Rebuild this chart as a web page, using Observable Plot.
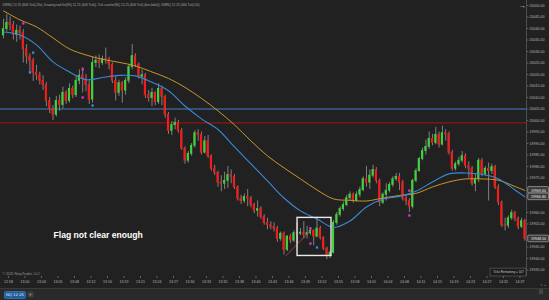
<!DOCTYPE html>
<html><head><meta charset="utf-8">
<script src="https://cdn.jsdelivr.net/npm/d3@7"></script>
<script src="https://cdn.jsdelivr.net/npm/@observablehq/plot@0.6"></script>
<style>
html,body{margin:0;padding:0;background:#212121;}
#wrap{position:relative;width:549px;height:300px;overflow:hidden;background:#212121;font-family:"DejaVu Sans",sans-serif;}
#bar{position:absolute;left:0;top:288px;width:549px;height:12px;}
</style></head><body><div id="wrap"><div id="chart"></div>
<svg id="bar" width="549" height="12">
<rect x="0" y="0" width="549" height="12" fill="#2a2a2a"/>
<line x1="0" y1="0.5" x2="549" y2="0.5" stroke="#3a3a3a"/>
<rect x="4.5" y="3.5" width="21" height="7" rx="1" fill="#1d5f9e" stroke="#3f86c8" stroke-width="0.6"/>
<text x="15" y="8.3" font-size="3.8" fill="#e8e8e8" text-anchor="middle" font-family="DejaVu Sans">NQ 12-25</text>
<rect x="28" y="4" width="5" height="5" rx="1" fill="#3a3a3a" stroke="#555" stroke-width="0.5"/>
<text x="30.5" y="8" font-size="4.5" fill="#ccc" text-anchor="middle" font-family="DejaVu Sans">+</text>
<rect x="539" y="1" width="4" height="5" fill="#444"/>
</svg>
</div>
<script>
// ---------- data ----------
const firstOpen = 20037;
const closes = [
20039.75,20042.5,20041.5,20037.25,20039,20038,20031,20027.75,20026,20020.75,
20019.75,20017.25,20015.5,20008.5,20005,20002.5,20008.5,20006.75,20012,20008.5,
20013.75,20011,20017.25,20019.5,20018,20015.5,20009,20025,20026,20025,
20026.75,20026.5,20024.25,20017.25,20012,20016.25,20013,20017.25,20023.25,20028,
20024.25,20019,20019.75,20011,20009.75,20012,20008,20013.75,20010.25,20002.5,
19995.5,19998,19999,19995.5,19987.75,19982.5,19985.5,19989,19994.5,19993.75,
19986,19991,19984.5,19979,19977.25,19973,19972.5,19973.75,19976.25,19975.5,
19971,19966,19965,19966.75,19966,19963.25,19960.75,19961.5,19958,19955.5,
19954.5,19953.75,19953,19948.5,19950.75,19943.75,19949.5,19947.75,19951,19950.75,
19951.25,19950.25,19951,19952,19949.5,19953,19949,19944.25,19941,19942.5,
19955.5,19959,19961.5,19963.25,19966.25,19967.75,19965,19967.75,19969.75,19974.5,
19973,19976,19978.5,19973.75,19964.25,19967.75,19969.5,19972,19974.5,19975.5,
19973,19966,19965,19962.5,19973.75,19978,19983.25,19986.75,19988.5,19992,
19990.25,19993.75,19989.5,19994.5,19994,19986,19979,19981,19982.5,19984.5,
19980.25,19979,19972.5,19974.5,19982.5,19976.75,19979,19978,19979.75,19971,
19964.25,19954.5,19954.25,19957.5,19959.75,19957.25,19953.75,19956.25,19948.5];
const highs = [
20044,20046,20045,20043,20041.5,20041,20039.5,20033,20029,20027,
20024,20021,20019.5,20016.5,20010,20006.5,20010.5,20011,20014.5,20013,
20016,20015,20019.5,20022,20023,20020,20017,20027.5,20028,20028.5,
20028,20031.5,20027.5,20025,20019,20017.5,20017,20018.5,20024.5,20033,
20029,20025,20022,20020.5,20013,20014,20012.5,20016,20015,20011,
20003.5,19999.5,20001,20000,19996.5,19988.5,19986.5,19990,19995.5,19996,
19995,19993,19993.5,19985,19980.5,19978,19976,19977.5,19980,19978.5,
19976.5,19971.5,19967.5,19968,19970,19967,19964,19965,19962.5,19959,
19957.5,19956,19955.5,19954,19951.5,19951.5,19950,19950.5,19952,19955.5,
19953,19956,19954,19953.5,19952.5,19958,19954,19949.5,19945,19943.5,
19956.5,19960,19962.5,19964.5,19967.5,19969,19968.5,19969,19971,19975.5,
19980,19978.5,19980.5,19979.5,19974.5,19968.5,19972.5,19973,19975.5,19977,
19977,19974,19967.5,19966,19974.5,19979,19984,19988,19991.5,19995,
19994,19997,19995,19997.5,19996,19995,19987,19982,19984,19986.5,
19985.5,19982,19980,19977,19983.5,19983.5,19980,19981.5,19981,19980.5,
19972,19965,19957.5,19958.5,19961,19960.5,19958,19957.5,19957];
const lows = [
20035.5,20038.5,20039,20035,20034,20035,20025,20024.5,20021,20017,
20017.5,20015.5,20013,20006,20003,20000,20001.5,20004,20005,20007,
20007.5,20009.5,20010,20015.5,20012,20012.5,20007,20007.5,20023,20022.5,
20024,20024.5,20022,20016,20008.5,20010.5,20007.5,20011,20016,20022,
20023,20018,20015.5,20009.5,20008,20006,20006.5,20007,20006.5,20001,
19994,19993.5,19996,19994.5,19987,19981,19981.5,19984.5,19988,19991,
19985,19985.5,19983.5,19978,19976,19971,19969,19970,19970.5,19972.5,
19970,19965,19963.5,19964,19962.5,19962,19959.5,19958,19957,19954.5,
19952.5,19952.5,19951.5,19947,19947.5,19941.5,19943,19946.5,19947,19946.5,
19950,19948.5,19948.5,19950,19945.5,19949,19948,19943.5,19939.5,19940,
19942,19954.5,19958,19960.5,19962.5,19965,19964,19964.5,19966.5,19969,
19971,19970,19975,19972.5,19962.5,19963.5,19965,19968.5,19971,19973.5,
19969.5,19965,19963,19960,19961.5,19973,19977.5,19982.5,19985,19987.5,
19989,19989.5,19988,19989,19991,19985,19978,19978,19980,19981.5,
19979,19975,19971.5,19969,19973,19975.5,19975.5,19965,19976.5,19970,
19963,19953.5,19952,19953,19956.5,19956,19952.5,19953,19947.5];

const emaIdx = [0,5,10,15,20,25,30,35,40,45,50,55,60,65,70,75,80,85,90,95,100,105,110,115,120,125,130,135,140,145,150,155,158];
const emaSlow = [20047.65,20043.74,20040.7,20035.9,20031.1,20028.5,20026.6,20025.3,20023.7,20021.1,20018.3,20014.4,20009.6,20004.2,19998.1,19991.1,19984.6,19979.4,19974.6,19969.8,19965.9,19965.3,19965,19966.3,19967.4,19968.3,19971.1,19973.3,19974.6,19974.6,19974,19971.3,19969.6];
const emaFast = [20038.5,20037.2,20032.9,20025.5,20021.1,20017.7,20018.7,20019.6,20019.4,20016.6,20012.9,20006.3,20000.7,19996.1,19988.5,19981.1,19973.7,19966.3,19960.7,19957.2,19953.5,19956.3,19962.4,19965.9,19967,19969.2,19973.3,19976.8,19977.2,19976.6,19974.6,19969.8,19966.8];

const levelBlue = 20005;
const levelRed = 19999;

const trendIdx = [85.5, 93];
const trendPrice = [19941.1, 19952];
const boxIdx = [89.1, 99.4];
const boxPrice = [19941.1, 19957.65];

const markerIdx = [6, 24, 24, 93, 93, 123, 123, 9, 8, 27, 95];
const markerPrice = [20042.2, 20022.2, 20010, 19946.5, 19953, 19958.7, 19969.5, 20029.5, 20020.9, 20006.5, 19944.8];
const markerKind = ["m","m","m","m","m","m","m","b","b","b","b"];

const timeTickIdx = [1.5,6.5,11.5,16.5,21.5,26.5,31.5,36.5,41.5,46.5,51.5,56.5,61.5,66.5,71.5,76.5,81.5,86.5,91.5,96.5,101.5,106.5,111.5,116.5,121.5,126.5,131.5,136.5,141.5,146.5,151.5,156.5];
const timeLabels = ["12:58","13:00","13:03","13:05","13:08","13:12","13:16","13:19","13:21","13:24","13:27","13:30","13:33","13:35","13:38","13:40","13:43","13:46","13:49","13:52","13:55","13:58","14:01","14:04","14:08","14:11","14:15","14:19","14:23","14:27","14:32","14:37"];
const priceTicks = [20050,20045,20040,20035,20030,20025,20020,20015,20010,20005,20000,19995,19990,19985,19980,19975,19970,19965,19960,19955,19950,19945,19940,19935];

const headerText = "DWNQ 12-25 (606 Tick),23s), Drawing tool lite(NQ 12-25 (606 Tick)), Tick counter(NQ 12-25 (606 Tick) (line,label)), DWNQ 12-25 (606 Tick),50)";
const noteText = "Flag not clear enough";
const copyright = "© 2025 NinjaTrader, LLC";
const ticksRemaining = "Ticks Remaining = 107";

// ---------- build ----------
const candles = closes.map((c, i) => ({i, o: i ? closes[i - 1] : firstOpen, c, h: highs[i], l: lows[i]}));
const slow = emaIdx.map((i, k) => ({i, v: emaSlow[k]}));
const fast = emaIdx.map((i, k) => ({i, v: emaFast[k]}));
const markers = markerIdx.map((i, k) => ({i, p: markerPrice[k], kind: markerKind[k]}));
const N = closes.length;
const xMin = -0.909, xMax = 158.485;
const last = candles[N - 1];
const valLabels = [
  {v: emaSlow[emaSlow.length - 1]},
  {v: emaFast[emaFast.length - 1]},
  {v: last.c}
];
// axis labels hidden behind the value boxes (as on the platform)
const shownTicks = priceTicks.filter(t => valLabels.every(l => Math.abs(t - l.v) > 2.4));
const GREEN = "#3fd23a", RED = "#f21c1c", GRAY = "#8a8a8a";

const chart = Plot.plot({
  width: 549, height: 288,
  marginTop: 0, marginBottom: 12, marginLeft: 0, marginRight: 23,
  style: {background: "#212121", color: "#bdbdbd", fontFamily: "Liberation Sans, Arial, sans-serif"},
  x: {type: "linear", domain: [xMin, xMax], axis: null},
  y: {domain: [19932.17, 20052.17], axis: null},
  marks: [
    Plot.ruleY([levelBlue], {stroke: "#3f7fcf", strokeWidth: 1}),
    Plot.ruleY([levelRed], {stroke: "#8e1515", strokeWidth: 1.2}),
    Plot.ruleX(candles, {x: "i", y1: "l", y2: "h", stroke: GRAY, strokeWidth: 0.9}),
    Plot.rect(candles, {x1: d => d.i - 0.33, x2: d => d.i + 0.33, y1: "o", y2: "c",
      insetTop: -0.4, insetBottom: -0.4,
      fill: d => d.c > d.o ? GREEN : d.c < d.o ? RED : GRAY}),
    Plot.line(slow, {x: "i", y: "v", stroke: "#c8962a", strokeWidth: 1, curve: "catmull-rom"}),
    Plot.line(fast, {x: "i", y: "v", stroke: "#3a87d6", strokeWidth: 1.1, curve: "catmull-rom"}),
    Plot.link([0], {x1: () => trendIdx[0], y1: () => trendPrice[0], x2: () => trendIdx[1], y2: () => trendPrice[1], stroke: "#c03a55", strokeWidth: 0.9}),
    Plot.rect([0], {x1: () => boxIdx[0], x2: () => boxIdx[1], y1: () => boxPrice[0], y2: () => boxPrice[1], fill: "none", stroke: "#e8e8e8", strokeWidth: 1.4}),
    Plot.dot(markers, {x: "i", y: "p", symbol: "square", r: 1.3, fill: d => d.kind === "m" ? "#e030e0" : "#3a8ee0", stroke: "none"}),
    Plot.text([noteText], {x: () => 15.15, y: () => 19950, text: d => d, textAnchor: "start", fill: "#ffffff", fontWeight: "bold", fontSize: 8.6, fontFamily: "Liberation Sans, Arial, sans-serif"}),
    Plot.text([headerText], {frameAnchor: "top-left", dx: 2, dy: 3, text: d => d, fill: "#a8a8a8", fontSize: 3.1, textAnchor: "start"}),
    Plot.text([copyright], {frameAnchor: "bottom-left", dx: 2, dy: -1.5, text: d => d, fill: "#9a9a9a", fontSize: 3.4, textAnchor: "start"}),
    Plot.rect([0], {x1: () => 147.6, x2: () => xMax, y1: () => 19932.17, y2: () => 19935.6, fill: "#1c1c1c", stroke: "#6a6a6a", strokeWidth: 0.6}),
    Plot.text([ticksRemaining], {x: () => 153.0, y: () => 19933.9, text: d => d, fill: "#c8c8c8", fontSize: 3.0}),
    Plot.ruleX([xMax], {stroke: "#5a5a5a", strokeWidth: 0.8}),
    Plot.axisY(shownTicks, {anchor: "right", tickSize: 1.5, tickPadding: 1.5, tickFormat: d => d.toFixed(2), fontSize: 3.6, stroke: "#666", fill: "#b8b8b8"}),
    Plot.axisX(timeTickIdx, {anchor: "bottom", tickSize: 2, tickPadding: 1.5, tickFormat: (d, k) => timeLabels[k], fontSize: 3.6, stroke: "#666", fill: "#b8b8b8"}),
    Plot.rect(valLabels, {x1: () => 159.0, x2: () => 165.3, y1: d => d.v - 1.45, y2: d => d.v + 1.45, fill: "#3a3a3a", stroke: "#bdbdbd", strokeWidth: 0.6, rx: 1}),
    Plot.text(valLabels, {x: () => 162.15, y: "v", text: d => d.v.toFixed(2), fill: "#f0f0f0", fontSize: 3.6}),
    Plot.text(["→"], {x: () => 157.3, y: () => 20050, text: d => d, fill: "#d8d8d8", fontSize: 7})
  ]
});
document.getElementById("chart").appendChild(chart);
</script>
</body></html>
